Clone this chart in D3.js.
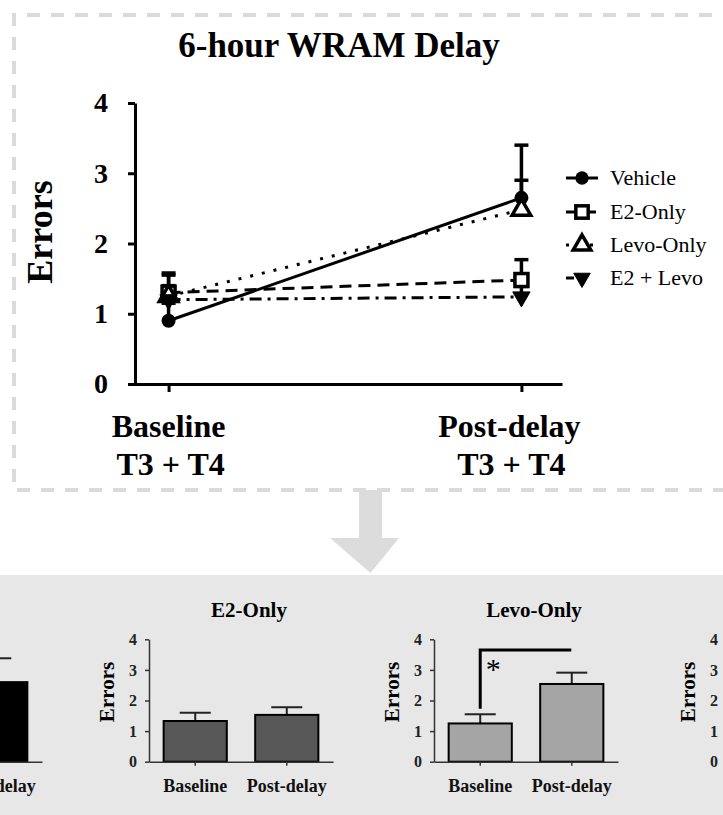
<!DOCTYPE html>
<html>
<head>
<meta charset="utf-8">
<script src="https://cdn.jsdelivr.net/npm/d3@7"></script>
<style>
  html, body { margin: 0; padding: 0; background: #fff; }
  svg { display: block; }
  text { font-family: "Liberation Serif", "Times New Roman", serif; }
</style>
</head>
<body>
<svg id="chart" width="723" height="815"></svg>
<script>
// ---------------- DATA ----------------
const groups = ["Vehicle", "E2-Only", "Levo-Only", "E2 + Levo"];
const timepoints = ["Baseline", "Post-delay"];
const timeSubLabels = ["T3 + T4", "T3 + T4"];
const yTicks = [0, 1, 2, 3, 4];

// top line chart (mean, upper SEM)
const meanVehicle = [0.90, 2.65];
const errVehicle = [0.25, 0.75];
const meanE2 = [1.30, 1.48];
const errE2 = [0.28, 0.29];
const meanLevo = [1.25, 2.48];
const errLevo = [0.30, 0.42];
const meanE2Levo = [1.20, 1.24];
const errE2Levo = [0.20, 0.15];

// bottom bar panels
const barVehicle = [0.90, 2.60];
const barErrVehicle = [0.25, 0.78];
const barE2 = [1.33, 1.53];
const barErrE2 = [0.27, 0.25];
const barLevo = [1.25, 2.54];
const barErrLevo = [0.30, 0.37];
const barE2Levo = [1.20, 1.24];
const barErrE2Levo = [0.20, 0.15];
const sigLabels = ["", "", "*", ""];

// ---------------- SETUP ----------------
const svg = d3.select("#chart");
svg.append("rect").attr("width", 723).attr("height", 815).attr("fill", "#fff");

const lineSeries = [
  {name: groups[0], mean: meanVehicle, err: errVehicle, dash: null, sym: "circle"},
  {name: groups[1], mean: meanE2, err: errE2, dash: "12,7", sym: "square"},
  {name: groups[2], mean: meanLevo, err: errLevo, dash: "3,9", sym: "triUp"},
  {name: groups[3], mean: meanE2Levo, err: errE2Levo, dash: "12,6,3,6", sym: "triDown"}
];

// ---------- dashed frame ----------
svg.append("path")
  .attr("d", "M760,15 H14 V490 H760")
  .attr("fill", "none").attr("stroke", "#dadada").attr("stroke-width", 4)
  .attr("stroke-dasharray", "13,11");

// ---------- arrow ----------
svg.append("path")
  .attr("d", "M359,490 H382 V538 H399 L370.5,573 L330,538 H359 Z")
  .attr("fill", "#dcdcdc");

// ---------- bottom gray panel ----------
svg.append("rect").attr("x", 0).attr("y", 575).attr("width", 723).attr("height", 240)
  .attr("fill", "#e7e7e7");

// ---------------- TOP LINE CHART ----------------
const x = d3.scalePoint().domain(timepoints).range([128, 562]).padding(0.115);
const y = d3.scaleLinear().domain([0, 4]).range([384, 103]);

const topG = svg.append("g");

topG.append("text")
  .attr("x", 339).attr("y", 57).attr("text-anchor", "middle")
  .attr("font-size", 35).attr("font-weight", "bold")
  .text("6-hour WRAM Delay");

topG.append("text")
  .attr("transform", "translate(52,232) rotate(-90)")
  .attr("text-anchor", "middle")
  .attr("font-size", 36).attr("font-weight", "bold")
  .text("Errors");

const yAxis = topG.append("g").attr("transform", "translate(135,0)")
  .call(d3.axisLeft(y).tickValues(yTicks).tickFormat(d3.format("d")).tickSize(7).tickSizeOuter(0).tickPadding(20));
yAxis.select(".domain").attr("stroke", "#000").attr("stroke-width", 3);
yAxis.selectAll(".tick line").attr("stroke", "#000").attr("stroke-width", 3);
yAxis.selectAll(".tick text").attr("font-size", 28).attr("font-weight", "bold")
  .attr("font-family", "Liberation Serif, serif").attr("fill", "#000");

const xAxis = topG.append("g").attr("transform", "translate(0,384)")
  .call(d3.axisBottom(x).tickSize(8).tickSizeOuter(0).tickFormat(""));
xAxis.select(".domain").attr("stroke", "#000").attr("stroke-width", 3);
xAxis.selectAll(".tick line").attr("stroke", "#000").attr("stroke-width", 3);

const labelShift = [0, -12];
timepoints.forEach((t, i) => {
  topG.append("text").attr("x", x(t) + labelShift[i]).attr("y", 437)
    .attr("text-anchor", "middle").attr("font-size", 32).attr("font-weight", "bold").text(t);
  topG.append("text").attr("x", x(t) + labelShift[i] + 2).attr("y", 475)
    .attr("text-anchor", "middle").attr("font-size", 32).attr("font-weight", "bold").text(timeSubLabels[i]);
});

function drawMarker(g, sym, cx, cy, scale) {
  const s = scale || 1;
  if (sym === "circle") {
    g.append("circle").attr("cx", cx).attr("cy", cy).attr("r", 7 * s).attr("fill", "#000");
  } else if (sym === "square") {
    g.append("rect").attr("x", cx - 6.5 * s).attr("y", cy - 6.5 * s).attr("width", 13 * s).attr("height", 13 * s)
      .attr("fill", "#fff").attr("stroke", "#000").attr("stroke-width", 3.5);
  } else if (sym === "triUp") {
    g.append("path").attr("transform", `translate(${cx},${cy})`)
      .attr("d", d3.symbol().type(d3.symbolTriangle).size(150 * s * s)())
      .attr("fill", "#fff").attr("stroke", "#000").attr("stroke-width", 3.5);
  } else if (sym === "triDown") {
    g.append("path").attr("transform", `translate(${cx},${cy}) rotate(180)`)
      .attr("d", d3.symbol().type(d3.symbolTriangle).size(130 * s * s)())
      .attr("fill", "#000").attr("stroke", "#000").attr("stroke-width", 1);
  }
}

const line = d3.line().x((d, i) => x(timepoints[i])).y(d => y(d));
lineSeries.forEach(s => {
  topG.append("path").datum(s.mean).attr("d", line)
    .attr("fill", "none").attr("stroke", "#000").attr("stroke-width", 3)
    .attr("stroke-dasharray", s.dash);
});
lineSeries.forEach(s => {
  s.mean.forEach((m, i) => {
    const cx = x(timepoints[i]);
    topG.append("line").attr("x1", cx).attr("x2", cx).attr("y1", y(m)).attr("y2", y(m + s.err[i]))
      .attr("stroke", "#000").attr("stroke-width", 3.5);
    topG.append("line").attr("x1", cx - 7).attr("x2", cx + 7).attr("y1", y(m + s.err[i])).attr("y2", y(m + s.err[i]))
      .attr("stroke", "#000").attr("stroke-width", 3.5);
  });
});
lineSeries.forEach(s => {
  s.mean.forEach((m, i) => drawMarker(topG, s.sym, x(timepoints[i]), y(m)));
});

// legend
const legRowY = [178, 212, 245, 278];
lineSeries.forEach((s, i) => {
  const lg = topG.append("g");
  lg.append("line").attr("x1", 566).attr("x2", 598).attr("y1", legRowY[i]).attr("y2", legRowY[i])
    .attr("stroke", "#000").attr("stroke-width", 3)
    .attr("stroke-dasharray", s.dash ? (s.sym === "triUp" ? "3,9" : (s.sym === "triDown" ? "8,8,3,20" : "12,6")) : null);
  drawMarker(lg, s.sym, 582, legRowY[i], 0.95);
  lg.append("text").attr("x", 610).attr("y", legRowY[i] + 7).attr("font-size", 22).text(s.name);
});

// ---------------- BOTTOM BAR PANELS ----------------
const panelAxisX = [-142, 149, 434, 730];
const panelFills = ["#000", "#575757", "#a5a5a5", "#fff"];
const barData = [barVehicle, barE2, barLevo, barE2Levo];
const barErrs = [barErrVehicle, barErrE2, barErrLevo, barErrE2Levo];

const yb = d3.scaleLinear().domain([0, 4]).range([761.7, 639.3]);
const xb = d3.scaleBand().domain(timepoints).range([0, 184]).paddingInner(0.31).paddingOuter(0.16);

groups.forEach((gname, p) => {
  const g = svg.append("g").attr("transform", `translate(${panelAxisX[p]},0)`);

  g.append("text").attr("x", 100).attr("y", 617).attr("text-anchor", "middle")
    .attr("font-size", 21).attr("font-weight", "bold").text(gname);

  g.append("text").attr("transform", "translate(-35,692) rotate(-90)")
    .attr("text-anchor", "middle").attr("font-size", 21).attr("font-weight", "bold").text("Errors");

  barData[p].forEach((v, i) => {
    const bx = xb(timepoints[i]);
    const cx = bx + xb.bandwidth() / 2;
    const topY = yb(v + barErrs[p][i]);
    g.append("line").attr("x1", cx).attr("x2", cx).attr("y1", yb(v)).attr("y2", topY)
      .attr("stroke", "#222").attr("stroke-width", 2);
    g.append("line").attr("x1", cx - 15.5).attr("x2", cx + 15.5).attr("y1", topY).attr("y2", topY)
      .attr("stroke", "#222").attr("stroke-width", 2);
    g.append("rect").attr("x", bx).attr("y", yb(v)).attr("width", xb.bandwidth()).attr("height", yb(0) - yb(v))
      .attr("fill", panelFills[p]).attr("stroke", "#000").attr("stroke-width", 2);
  });

  const ya = g.append("g").call(d3.axisLeft(yb).tickValues(yTicks).tickFormat(d3.format("d")).tickSize(4).tickSizeOuter(0).tickPadding(8));
  ya.select(".domain").attr("stroke", "#333").attr("stroke-width", 1.5);
  ya.selectAll(".tick line").attr("stroke", "#333").attr("stroke-width", 1.5);
  ya.selectAll(".tick text").attr("font-size", 16).attr("font-weight", "bold")
    .attr("font-family", "Liberation Serif, serif").attr("fill", "#222");

  const xa = g.append("g").attr("transform", `translate(0,${yb(0)})`)
    .call(d3.axisBottom(xb).tickSize(4).tickSizeOuter(0).tickPadding(14));
  xa.select(".domain").attr("stroke", "#333").attr("stroke-width", 1.5);
  xa.selectAll(".tick line").attr("stroke", "#333").attr("stroke-width", 1.5);
  xa.selectAll(".tick text").attr("font-size", 18).attr("font-weight", "bold")
    .attr("font-family", "Liberation Serif, serif").attr("fill", "#111");

  if (sigLabels[p]) {
    const c0 = xb(timepoints[0]) + xb.bandwidth() / 2;
    const c1 = xb(timepoints[1]) + xb.bandwidth() / 2;
    const yTopB = yb(3.65);
    const yLow = yb(barData[p][0] + barErrs[p][0] + 0.18);
    g.append("path").attr("d", `M${c0},${yLow} V${yTopB} H${c1 - 0.5}`)
      .attr("fill", "none").attr("stroke", "#000").attr("stroke-width", 3);
    g.append("text").attr("x", c0 + 13).attr("y", yTopB + 29).attr("text-anchor", "middle")
      .attr("font-size", 30).text(sigLabels[p]);
  }
});

// drop texts that lie entirely outside the visible frame (the reference crops them away)
svg.selectAll("text").each(function () {
  const r = this.getBoundingClientRect();
  if (r.right <= 0 || r.left >= 723) d3.select(this).remove();
});
</script>
</body>
</html>
